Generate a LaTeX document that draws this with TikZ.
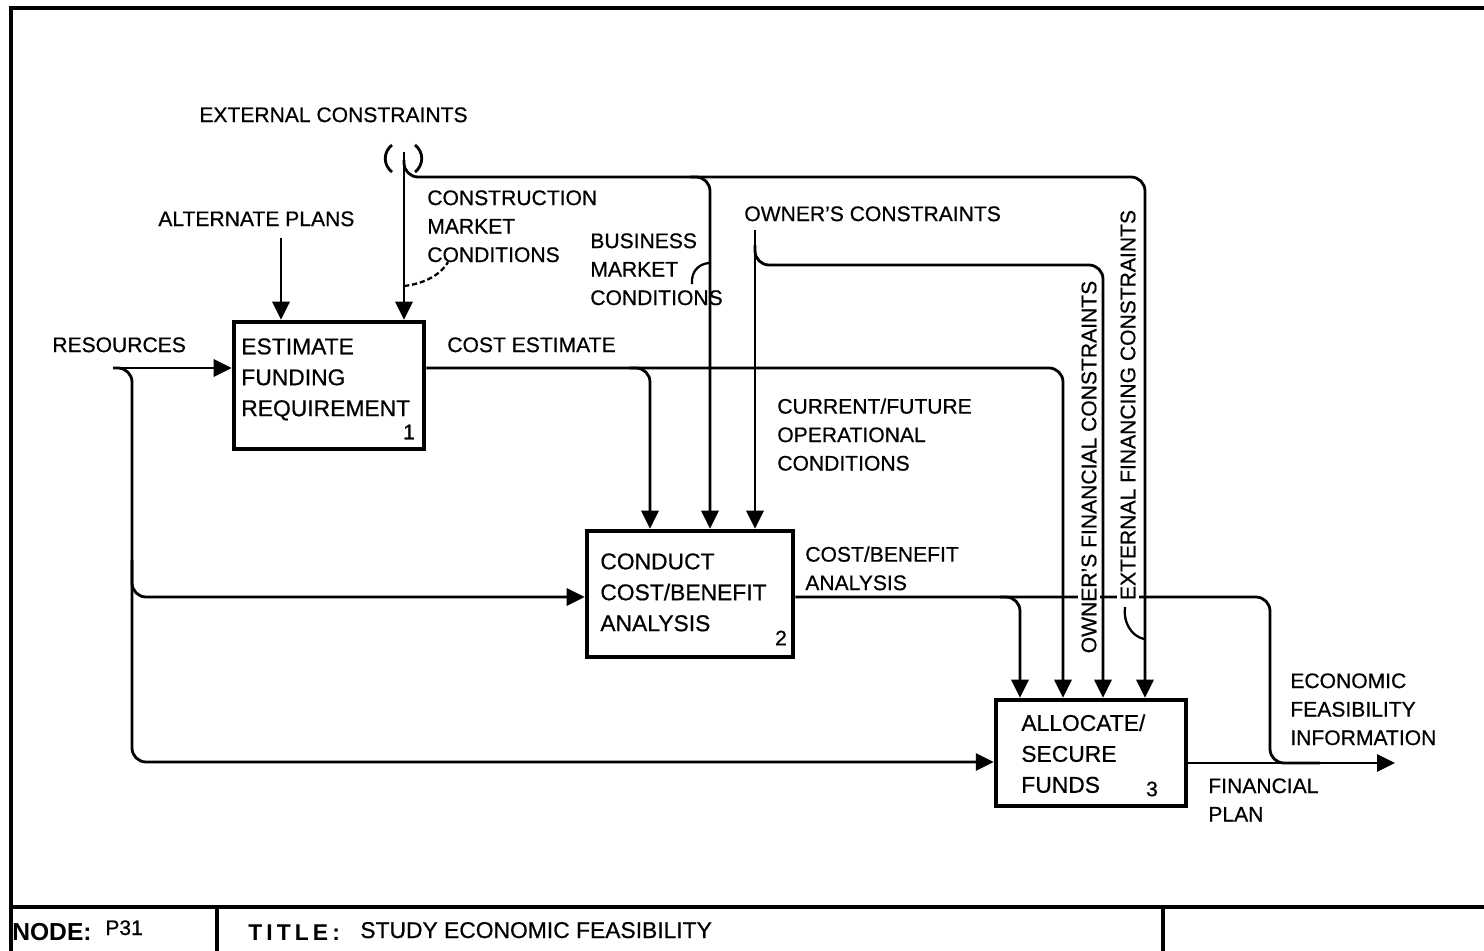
\documentclass[tikz,border=0pt]{standalone}
\usepackage{fontspec}
\setmainfont{Liberation Sans}[UprightFeatures={FakeBold=0.6}]
\usetikzlibrary{arrows.meta,calc}

\tikzset{
  box/.style={draw, line width=2.6pt, inner sep=0pt},
  wire/.style={line width=1.6pt},
  flow/.style={wire, -{Triangle[length=0.36cm,width=0.34cm]}},
  rc/.style={rounded corners=8pt},
  squiggle/.style={line width=1.3pt},
  lbl/.style={anchor=north west, inner sep=0pt, align=left, font=\fontsize{12}{16.2}\selectfont},
  vlbl/.style={rotate=90, fill=white, inner sep=2pt, font=\fontsize{12}{14}\selectfont},
  boxtxt/.style={anchor=north west, inner sep=0pt, align=left, font=\fontsize{13}{17.6}\selectfont},
  num/.style={inner sep=0pt, font=\fontsize{12}{14}\selectfont},
  frame/.style={line width=2.2pt},
}

\begin{document}
\begin{tikzpicture}[x=0.02cm, y=-0.02cm]
\useasboundingbox (0,0) rectangle (1484,950);

% sheet frame and title bar
\draw[frame] (11,952) -- (11,8) -- (1486,8);
\draw[frame] (11,907) -- (1486,907);
\draw[frame] (217,907) -- (217,952);
\draw[frame] (1163,907) -- (1163,952);
\node[anchor=base west, inner sep=0pt, font=\fontsize{14}{16}\selectfont\bfseries] (nodelbl) at (12,940) {NODE:};
\node[anchor=base west, inner sep=0pt, font=\fontsize{12}{14}\selectfont] (nodeid) at (105,935) {P31};
\node[anchor=base west, inner sep=0pt, font=\fontsize{13}{15}\selectfont\bfseries\addfontfeatures{LetterSpace=18}] (titlelbl) at (248,940) {TITLE:};
\node[anchor=base west, inner sep=0pt, font=\fontsize{13}{15}\selectfont] (title) at (360,938) {STUDY ECONOMIC FEASIBILITY};

% activity boxes
\node[box, minimum width=3.8cm, minimum height=2.54cm] (b1) at (329,385.5) {};
\node[box, minimum width=4.12cm, minimum height=2.52cm] (b2) at (690,594) {};
\node[box, minimum width=3.8cm, minimum height=2.12cm] (b3) at (1091,753) {};

\node[boxtxt] (t1) at (241,338) {ESTIMATE\\FUNDING\\REQUIREMENT};
\node[boxtxt] (t2) at (600,553) {CONDUCT\\COST/BENEFIT\\ANALYSIS};
\node[boxtxt] (t3) at (1021,714) {ALLOCATE/\\SECURE\\FUNDS};
\node[num] (n1) at (409,432) {1};
\node[num] (n2) at (781,638) {2};
\node[num] (n3) at (1152,789) {3};

% free ends of the arrows
\coordinate (apS) at (281,238);
\coordinate (ecS) at (404,152);
\coordinate (ocS) at (755,230);
\coordinate (rsS) at (113,368);
\coordinate (outE) at (1395,763);

% alternate plans
\draw[flow] (apS) -- (apS |- b1.north);

% external constraints and the tunnel mark
\draw[wire] (392,145) .. controls (383,152) and (383,165) .. (392,172);
\draw[wire] (415,145) .. controls (424,152) and (424,165) .. (415,172);
\draw[flow] (ecS) -- (ecS |- b1.north);
\draw[flow, rc] (404,160) |- (1145,177) -- (1145,0 |- b3.north);
\draw[flow, rc] (690,177) -| (710,0 |- b2.north);

% owner's constraints
\draw[flow] (ocS) -- (ocS |- b2.north);
\draw[flow, rc] (755,245) |- (1103,265) -- (1103,0 |- b3.north);

% cost estimate
\draw[flow, rc] (b1.east |- 0,368) -| (1063,0 |- b3.north);
\draw[flow, rc] (630,368) -| (650,0 |- b2.north);

% resources
\draw[flow] (rsS) -- (rsS -| b1.west);
\draw[flow, rc] (rsS) -| (132,762) -- (b3.west |- 0,762);
\draw[flow, rc] (132,560) |- (b2.west |- 0,597);

% cost/benefit analysis
\draw[flow, rc] (b2.east |- 0,597) -| (1020,0 |- b3.north);
\draw[wire, rc] (1000,597) -| (1270,763) -- (1320,763);

% outputs of box 3
\draw[flow] (b3.east |- 0,763) -- (outE);

% squiggles tying labels to arrows
\draw[squiggle, dash pattern=on 3pt off 1.6pt] (404,286) .. controls (422,284) and (440,276) .. (448,262);
\draw[squiggle] (692,284) .. controls (691,272) and (698,264) .. (709,263);
\draw[squiggle] (1125,607) .. controls (1123,622) and (1131,636) .. (1144,639);

% arrow labels
\node[lbl] (lEC) at (199,107) {EXTERNAL CONSTRAINTS};
\node[lbl] (lAP) at (158,211) {ALTERNATE PLANS};
\node[lbl] (lCM) at (427,190) {CONSTRUCTION\\MARKET\\CONDITIONS};
\node[lbl] (lBM) at (590,233) {BUSINESS\\MARKET\\CONDITIONS};
\node[lbl] (lOC) at (744,206) {OWNER'S CONSTRAINTS};
\node[lbl] (lRS) at (52,337) {RESOURCES};
\node[lbl] (lCE) at (447,337) {COST ESTIMATE};
\node[lbl] (lOP) at (777,398) {CURRENT/FUTURE\\OPERATIONAL\\CONDITIONS};
\node[lbl] (lCB) at (805,546) {COST/BENEFIT\\ANALYSIS};
\node[lbl] (lEF) at (1290,673) {ECONOMIC\\FEASIBILITY\\INFORMATION};
\node[lbl] (lFP) at (1208,778) {FINANCIAL\\PLAN};
\node[vlbl] (lOF) at (1089,467) {OWNER'S FINANCIAL CONSTRAINTS};
\node[vlbl] (lXF) at (1128,405) {EXTERNAL FINANCING CONSTRAINTS};
\end{tikzpicture}
\end{document}
